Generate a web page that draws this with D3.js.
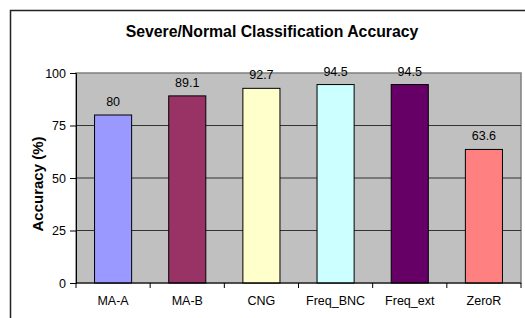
<!DOCTYPE html>
<html>
<head>
<meta charset="utf-8">
<script src="https://cdn.jsdelivr.net/npm/d3@7"></script>
<style>
  body { margin: 0; background: #fff; }
  text { font-family: "Liberation Sans", Arial, sans-serif; }
</style>
</head>
<body>
<div id="chart"></div>
<script>
const categories = ["MA-A", "MA-B", "CNG", "Freq_BNC", "Freq_ext", "ZeroR"];
const accuracy = [80, 89.1, 92.7, 94.5, 94.5, 63.6];
const barColors = ["#9999ff", "#993366", "#ffffcc", "#ccffff", "#660066", "#ff8080"];
const yTicks = [0, 25, 50, 75, 100];

const W = 525, H = 318;
const margin = { top: 73, right: 4, bottom: 35, left: 76 };
const width = 521 - margin.left;
const height = 283 - margin.top;

const svg = d3.select("#chart").append("svg")
    .attr("width", W)
    .attr("height", H);

// outer chart frame (bottom is off-screen)
svg.append("rect")
    .attr("x", 10.5).attr("y", 10.5)
    .attr("width", 525).attr("height", 330)
    .attr("fill", "#fff")
    .attr("stroke", "#222")
    .attr("stroke-width", 1.5);

svg.append("text")
    .attr("x", 272)
    .attr("y", 37)
    .attr("text-anchor", "middle")
    .style("font-size", "15.8px")
    .style("font-weight", "bold")
    .text("Severe/Normal Classification Accuracy");

const g = svg.append("g")
    .attr("transform", `translate(${margin.left},${margin.top})`);

const x = d3.scaleBand()
    .domain(categories)
    .range([0, width])
    .paddingInner(0.5)
    .paddingOuter(0.25);

const xBand = d3.scaleBand()
    .domain(categories)
    .range([0, width]);

const y = d3.scaleLinear()
    .domain([0, 100])
    .range([height, 0]);

// plot area
g.append("rect")
    .attr("width", width)
    .attr("height", height)
    .attr("fill", "#c0c0c0")
    .attr("stroke", "#808080")
    .attr("stroke-width", 1.5);

// gridlines
g.selectAll(".grid")
    .data(yTicks.filter(d => d > 0 && d < 100))
    .enter().append("line")
    .attr("x1", 0).attr("x2", width)
    .attr("y1", d => y(d)).attr("y2", d => y(d))
    .attr("stroke", "#333")
    .attr("stroke-width", 1);

g.selectAll(".bar")
    .data(accuracy)
    .enter().append("rect")
    .attr("x", (d, i) => x(categories[i]))
    .attr("y", d => y(d))
    .attr("width", x.bandwidth())
    .attr("height", d => y(0) - y(d))
    .attr("fill", (d, i) => barColors[i])
    .attr("stroke", "#000")
    .attr("stroke-width", 1);

g.selectAll(".val")
    .data(accuracy)
    .enter().append("text")
    .attr("x", (d, i) => x(categories[i]) + x.bandwidth() / 2)
    .attr("y", d => y(d) - 9)
    .attr("text-anchor", "middle")
    .style("font-size", "12.5px")
    .text(d => d);

// y axis
const yAxis = g.append("g")
    .call(d3.axisLeft(y).tickValues(yTicks).tickSize(6).tickPadding(4));
yAxis.select(".domain").attr("stroke", "#000");
yAxis.selectAll("text").style("font-size", "12.5px").attr("fill", "#000");

// x axis with ticks at category boundaries
const xAxis = g.append("g")
    .attr("transform", `translate(0,${height})`);
xAxis.append("line")
    .attr("x1", 0).attr("x2", width)
    .attr("stroke", "#000");
xAxis.selectAll(".tk")
    .data(categories.map(c => xBand(c)).concat([width]))
    .enter().append("line")
    .attr("x1", d => d).attr("x2", d => d)
    .attr("y1", 0).attr("y2", 5)
    .attr("stroke", "#000");
xAxis.selectAll(".lbl")
    .data(categories)
    .enter().append("text")
    .attr("x", d => xBand(d) + xBand.bandwidth() / 2)
    .attr("y", 22)
    .attr("text-anchor", "middle")
    .style("font-size", "12.5px")
    .text(d => d);

svg.append("text")
    .attr("transform", `translate(43,184) rotate(-90)`)
    .attr("text-anchor", "middle")
    .style("font-size", "15px")
    .style("font-weight", "bold")
    .text("Accuracy (%)");
</script>
</body>
</html>
